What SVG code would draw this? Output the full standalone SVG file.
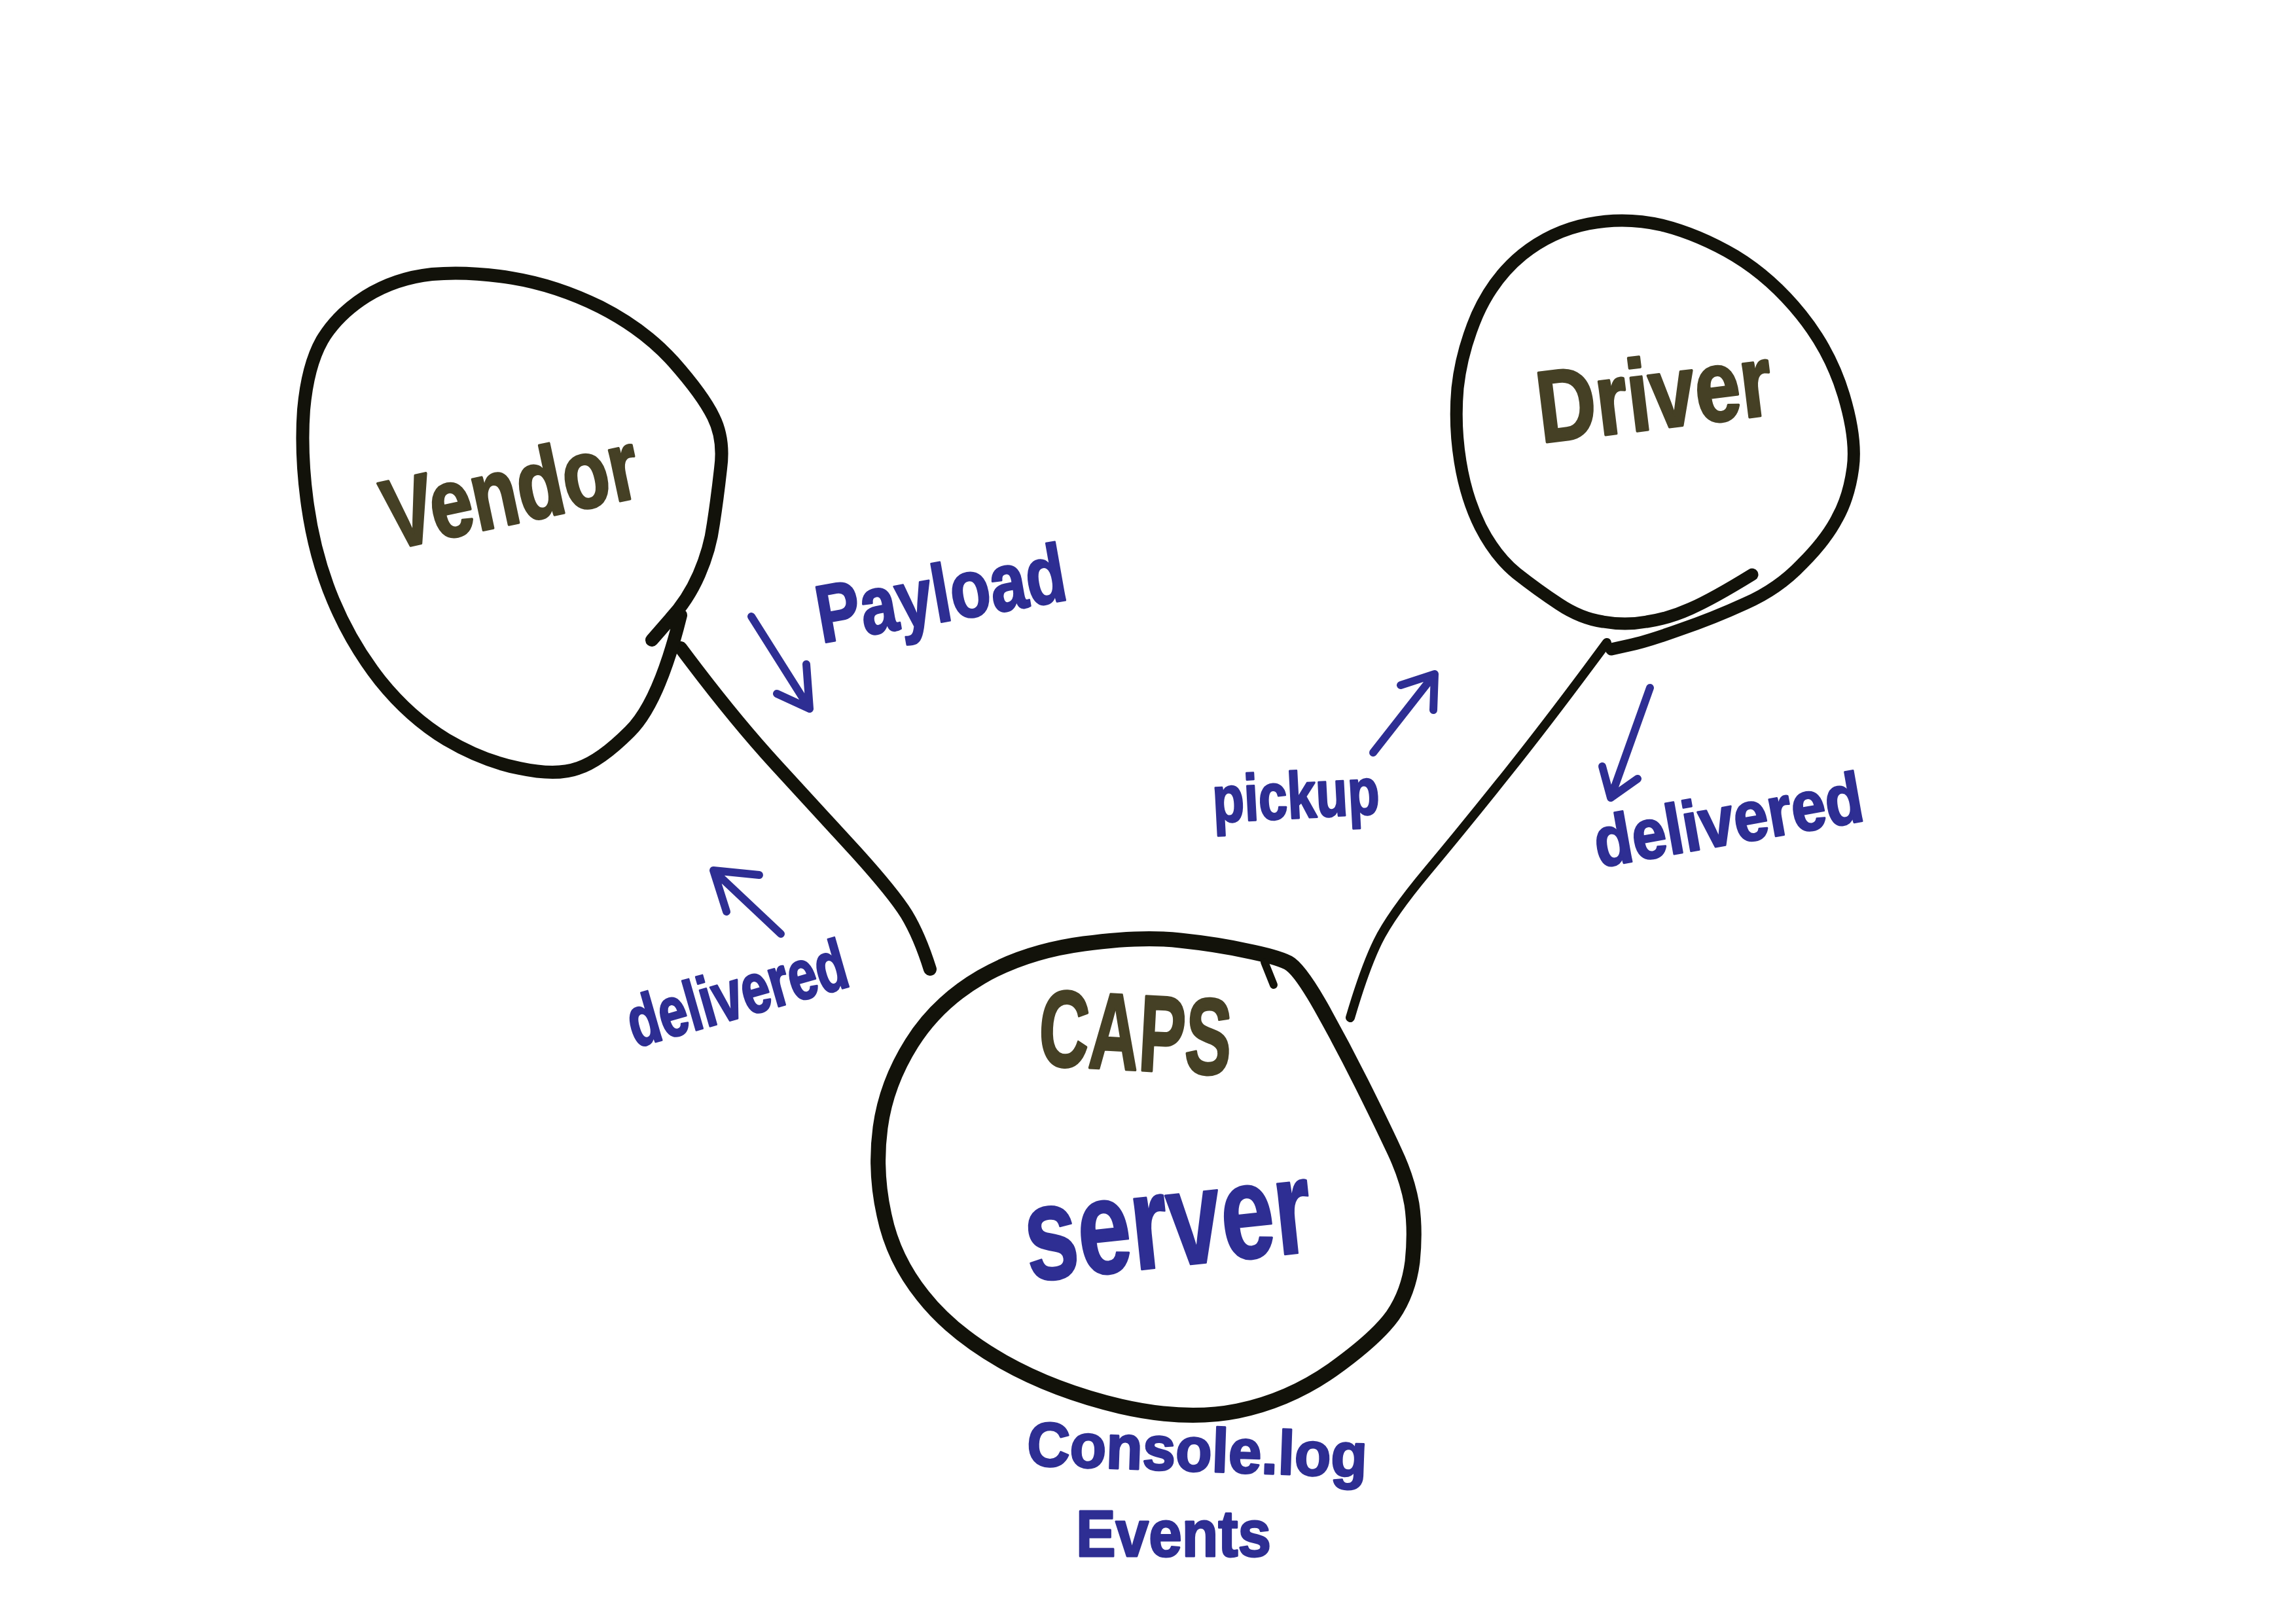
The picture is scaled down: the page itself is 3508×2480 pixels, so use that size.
<svg xmlns="http://www.w3.org/2000/svg" width="3508" height="2480" viewBox="0 0 3508 2480">
<defs>
<style>
.ring{fill:none;stroke:#12120a;stroke-linecap:round;stroke-linejoin:round}
.conn{fill:none;stroke:#12120a;stroke-linecap:round;stroke-linejoin:round}
.arr{fill:none;stroke:#2e2e93;stroke-width:12;stroke-linecap:round;stroke-linejoin:round}
.olive{font-family:"Liberation Sans",Arial,sans-serif;font-weight:bold;fill:#454025;stroke:#454025;stroke-width:4;stroke-linejoin:round}
.blue{font-family:"Liberation Sans",Arial,sans-serif;font-weight:bold;fill:#2e2e93;stroke:#2e2e93;stroke-width:3;stroke-linejoin:round}
</style>
</defs>
<rect width="3508" height="2480" fill="#ffffff"/>

<g id="connectors">
<path class="conn" stroke-width="20" d="M 1040 990 Q 1119 1096 1186 1169 Q 1253 1242 1309 1303 Q 1365 1365 1385 1397 Q 1405 1430 1421 1481"/>
<path class="conn" stroke-width="14" d="M 2455 982 Q 2371 1096 2304 1180 Q 2237 1264 2181 1331 Q 2125 1398 2105 1439 Q 2085 1480 2063 1555"/>
</g>

<g id="vendor">
<path class="ring" stroke-width="20" d="M 1040 940 Q 1007 1074 962 1118 Q 917 1163 883 1174 Q 850 1186 794 1174 Q 738 1163 682 1130 Q 626 1096 581 1040 Q 537 984 509 917 Q 481 850 470 772 Q 459 694 464 626 Q 470 559 492 520 Q 515 481 559 453 Q 604 425 660 419 Q 716 414 783 425 Q 850 436 917 469 Q 984 503 1029 553 Q 1074 604 1090 637 Q 1107 671 1101 716 Q 1096 761 1090 800 Q 1085 839 1068 878 Q 1051 917 1023 947 L 996 978"/>
<text class="olive" x="780" y="800" font-size="150" text-anchor="middle" textLength="395" lengthAdjust="spacingAndGlyphs" transform="rotate(-12 780 750)">Vendor</text>
</g>

<g id="driver">
<path class="ring" stroke-width="19" d="M 2677 878 Q 2617 915 2583 930 Q 2550 945 2516 950 Q 2483 956 2449 950 Q 2415 945 2382 923 Q 2350 902 2317 876 Q 2285 850 2262 805 Q 2240 761 2231 705 Q 2222 649 2227 593 Q 2233 537 2257 481 Q 2282 425 2326 389 Q 2371 353 2427 342 Q 2483 331 2539 344 Q 2595 358 2651 391 Q 2707 425 2752 481 Q 2797 537 2817 604 Q 2837 671 2831 715 Q 2825 760 2807 792 Q 2790 825 2753 862 Q 2717 900 2667 922 Q 2617 945 2567 962 Q 2517 980 2489 986 L 2462 992"/>
<text class="olive" x="2527" y="655" font-size="155" text-anchor="middle" textLength="360" lengthAdjust="spacingAndGlyphs" transform="rotate(-7 2527 600)">Driver</text>
</g>

<g id="caps">
<path class="ring" stroke-width="23" d="M 1499 1493 Q 1566 1454 1656 1442 Q 1745 1430 1803 1437 Q 1860 1443 1905 1453 Q 1950 1462 1968 1471 Q 1985 1480 2018 1538 Q 2050 1595 2080 1655 Q 2110 1715 2130 1758 Q 2150 1800 2157 1840 Q 2163 1880 2158 1928 Q 2152 1975 2128 2010 Q 2103 2045 2036 2093 Q 1969 2140 1891 2156 Q 1812 2172 1712 2149 Q 1611 2125 1533 2081 Q 1454 2036 1410 1980 Q 1365 1924 1351 1857 Q 1336 1790 1345 1723 Q 1354 1656 1393 1594 Q 1432 1532 1499 1493 Z"/>
<path class="ring" stroke-width="12" d="M 1932 1470 L 1946 1505"/>
<text class="olive" x="1735" y="1635" font-size="165" text-anchor="middle" textLength="294" lengthAdjust="spacingAndGlyphs" transform="rotate(3 1735 1576)">CAPS</text>
<text class="blue" x="1785" y="1935" font-size="205" text-anchor="middle" textLength="440" lengthAdjust="spacingAndGlyphs" transform="rotate(-6 1785 1880)">server</text>
</g>

<g id="labels">
<text class="blue" x="1437" y="950" font-size="125" text-anchor="middle" textLength="385" lengthAdjust="spacingAndGlyphs" transform="rotate(-10 1437 905)">Payload</text>
<path class="arr" d="M 1148 942 L 1237 1083 M 1187 1060 L 1237 1083 L 1232 1015"/>

<text class="blue" x="1980" y="1250" font-size="100" text-anchor="middle" textLength="255" lengthAdjust="spacingAndGlyphs" transform="rotate(-3 1980 1220)">pickup</text>
<path class="arr" d="M 2098 1150 L 2192 1030 M 2140 1047 L 2192 1030 L 2190 1085"/>

<text class="blue" x="2640" y="1290" font-size="108" text-anchor="middle" textLength="415" lengthAdjust="spacingAndGlyphs" transform="rotate(-10 2640 1250)">delivered</text>
<path class="arr" d="M 2521 1051 L 2461 1219 M 2448 1171 L 2461 1219 L 2502 1190"/>

<text class="blue" x="1125" y="1555" font-size="108" text-anchor="middle" textLength="345" lengthAdjust="spacingAndGlyphs" transform="rotate(-16 1125 1515)">delivered</text>
<path class="arr" stroke-width="16" d="M 1193 1427 L 1090 1330 M 1160 1337 L 1090 1330 L 1110 1393"/>

<text class="blue" x="1829" y="2248" font-size="95" text-anchor="middle" textLength="520" lengthAdjust="spacingAndGlyphs" transform="rotate(2 1829 2220)">Console.log</text>
<text class="blue" x="1793" y="2378" font-size="100" text-anchor="middle" textLength="298" lengthAdjust="spacingAndGlyphs">Events</text>
</g>
</svg>
